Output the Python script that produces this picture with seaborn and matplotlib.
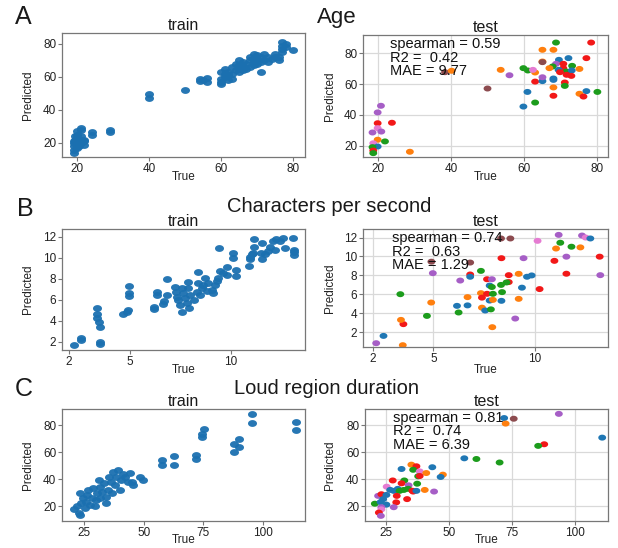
import numpy as np
import pandas as pd
import matplotlib
matplotlib.use("Agg")
import matplotlib.pyplot as plt
import seaborn as sns

# ---------------- data ----------------
# Age - train
age_train_true = [19, 19, 19, 19, 19, 19.5, 20, 20, 20, 20, 20, 20, 21, 21, 21, 21, 21, 22, 22, 22, 20.5, 19.5,
                  24, 24, 29, 29, 40, 40, 50, 54, 54, 55, 56, 56,
                  60, 60, 60, 60, 61, 61, 61, 62, 62, 62, 63, 63, 63, 64, 64, 65, 65, 65, 65, 66, 66, 66,
                  67, 67, 68, 68, 68, 69, 69, 69, 69, 70, 70, 70, 71, 71, 71, 72, 72, 73, 73, 74, 75, 75,
                  76, 76, 77, 77, 77, 77, 78, 78, 80]
age_train_pred = [14, 16, 18, 20, 21, 22, 17, 19, 21, 23, 25, 27, 20, 22, 24, 28, 29, 19, 21, 22, 18, 24,
                  25, 26.5, 26.5, 28, 47.5, 49.5, 52, 57.5, 58.5, 58, 57, 59.5,
                  56, 57, 59, 63, 60, 62, 65, 58, 63, 61, 59, 62, 66, 64, 68, 63, 65, 67, 70, 64, 66, 69,
                  65, 68, 66, 70, 72, 67, 69, 71, 74, 68, 70, 73, 63, 69, 72, 70, 74, 69, 72, 71, 72, 74,
                  70, 72, 75, 77, 79, 81, 78, 80, 76]

# Age - test (group = colour class)
age_test_true = [68.7, 78.3, 65.0, 68.0, 72.1, 77.0, 69.5, 68.7, 65.0, 65.0, 67.8, 70.7, 70.7, 66.9, 73.1,
                 75.1, 59.8, 61.0, 63.0, 62.4, 69.4, 71.5, 69.8, 73.0, 71.6, 72.9, 53.6, 56.0, 38.4, 40.2,
                 63.0, 65.0, 65.0, 68.0, 68.0, 71.1, 71.1, 68.0, 50.0, 60.9, 80.0, 77.0, 75.1, 76.2, 68.0,
                 63.0, 59.8, 20.9, 20.0, 20.0, 23.9, 18.6, 20.0, 21.0, 20.0, 22.0, 18.8, 20.0, 18.6, 18.8,
                 18.8, 28.8]
age_test_pred = [86.9, 86.9, 82.2, 82.2, 76.8, 76.8, 75.7, 73.1, 74.6, 74.2, 71.4, 73.1, 70.3, 70.3, 71.8,
                 69.8, 70.3, 68.8, 67.5, 69.2, 69.2, 68.1, 67.7, 68.8, 66.0, 65.3, 69.2, 65.7, 67.7, 68.6,
                 61.6, 61.9, 64.4, 62.7, 63.6, 61.0, 58.8, 57.8, 57.1, 54.9, 54.9, 55.4, 53.7, 51.9, 52.4,
                 48.0, 45.4, 45.9, 41.6, 34.6, 34.9, 28.6, 31.4, 29.2, 23.9, 22.8, 21.6, 19.5, 19.1, 16.9,
                 15.2, 16.1]
age_test_grp = ["g", "r", "o", "o", "b", "r", "b", "p", "o", "n", "g", "r", "r", "o", "g",
                "o", "g", "g", "o", "k", "b", "g", "r", "b", "r", "r", "o", "p", "n", "o",
                "r", "b", "p", "b", "b", "r", "g", "o", "n", "b", "g", "b", "o", "r", "r",
                "g", "b", "p", "p", "r", "r", "p", "k", "p", "o", "g", "k", "b", "g", "r",
                "g", "o"]

# Characters per second - train
cps_train_true = [2.26, 2.60, 2.60, 3.41, 3.41, 3.41, 3.49, 3.54, 3.54, 3.54, 4.69, 4.86, 4.94, 4.98, 4.98, 4.98,
                  6.21, 6.21, 6.34, 6.34, 6.67, 6.70, 6.84, 6.87, 7.25, 7.28, 7.33, 7.41, 7.50, 7.58, 7.58,
                  7.66, 7.74, 7.82, 7.87, 7.91, 7.94, 7.99, 8.21, 8.32, 8.37, 8.40, 8.49, 8.57, 8.65, 8.73,
                  8.81, 8.90, 9.06, 9.14, 9.23, 9.31, 9.39, 9.47, 9.44, 9.64, 9.80, 9.80, 10.1, 10.1, 10.27,
                  10.27, 10.93, 10.96, 10.96, 11.04, 11.12, 11.17, 11.17, 11.5, 11.53, 11.56, 11.69, 11.86,
                  11.94, 12.11, 12.19, 12.27, 12.44, 12.6, 12.69, 13.1, 13.15, 13.15, 13.15]
cps_train_pred = [1.68, 2.32, 2.16, 5.19, 4.62, 4.24, 3.86, 3.44, 2.0, 1.8, 4.62, 4.81, 5.0, 6.62, 6.4, 7.32,
                  5.34, 5.12, 6.75, 6.5, 5.56, 5.88, 6.5, 7.98, 7.25, 6.75, 6.28, 5.97, 5.5, 4.85, 7.1,
                  6.62, 6.14, 5.66, 7.73, 7.16, 5.19, 6.46, 5.97, 6.75, 7.57, 8.67, 6.46, 7.1, 7.41, 8.1,
                  6.81, 7.57, 6.94, 6.62, 7.41, 7.79, 8.04, 8.74, 10.9, 8.51, 8.36, 9.09, 10.42, 10.0, 8.8,
                  8.26, 9.26, 10.06, 9.9, 10.38, 10.5, 11.04, 11.77, 10.5, 9.9, 11.39, 10.38, 10.7,
                  11.0, 11.64, 10.8, 11.77, 11.64, 11.9, 10.92, 11.9, 10.8, 10.55, 10.3]

# Characters per second - test
cps_test_true = [2.18, 2.54, 3.49, 3.52, 3.40, 3.37, 4.68, 4.89, 4.97, 4.90, 6.32, 6.16, 6.24, 6.68, 6.68,
                 6.81, 6.81, 6.81, 7.34, 7.34, 7.39, 7.39, 7.64, 7.88, 7.64, 7.55, 7.77, 7.88, 7.93, 7.77,
                 7.93, 7.83, 7.90, 8.33, 8.79, 8.35, 8.33, 8.71, 8.71, 8.60, 8.38, 8.35, 9.20, 9.20, 9.03,
                 9.36, 9.44, 9.61, 9.84, 10.13, 10.23, 11.04, 10.96, 11.25, 11.17, 11.55, 11.55, 11.8,
                 12.24, 12.32, 12.5, 12.73, 13.19, 13.22]
cps_test_pred = [0.85, 1.62, 0.64, 2.86, 3.31, 6.02, 3.73, 5.14, 8.24, 9.45, 7.46, 4.79, 4.09, 5.71, 4.84,
                 8.10, 7.86, 9.36, 8.48, 6.13, 5.66, 4.60, 7.60, 7.60, 6.06, 4.30, 6.93, 6.78, 6.06, 5.35,
                 5.42, 4.42, 2.54, 11.9, 11.9, 9.82, 7.0, 8.03, 7.3, 7.26, 6.24, 5.32, 8.17, 5.53, 3.45,
                 6.71, 9.82, 7.86, 8.0, 11.65, 6.56, 10.84, 9.54, 11.45, 12.28, 8.18, 9.98, 11.03,
                 10.96, 12.21, 12.0, 11.9, 9.98, 8.03]
cps_test_grp = ["p", "b", "o", "r", "o", "g", "g", "o", "p", "n", "p", "b", "g", "o", "b",
                "r", "b", "n", "g", "o", "r", "o", "r", "p", "r", "b", "b", "g", "g", "b",
                "o", "g", "o", "n", "n", "r", "g", "r", "r", "g", "g", "b", "o", "o", "p",
                "b", "p", "b", "b", "k", "r", "o", "r", "g", "p", "r", "p", "g",
                "o", "p", "k", "b", "r", "p"]

# Loud region duration - train
loud_train_true = [20.8, 22.0, 22.9, 23.4, 23.2, 23.9, 24.6, 25.3, 25.7, 26.3, 26.7, 27.4, 28.5, 28.8, 29.5,
                   29.9, 30.5, 31.3, 31.6, 31.9, 32.7, 33.3, 34.1, 34.4, 35.1, 35.5, 36.5, 36.8, 37.2, 37.9,
                   38.6, 39.3, 40.0, 40.7, 41.4, 42.1, 43.5, 44.4, 45.3, 45.6, 48.4, 49.5, 57.8, 57.8, 62.5,
                   62.5, 72.0, 72.0, 74.6, 74.6, 75.1, 87.7, 87.7, 89.8, 89.9, 95.5, 95.5, 113.9, 113.9]
loud_train_pred = [18.0, 20.0, 15.1, 13.2, 29.6, 22.3, 25.9, 18.6, 23.5, 28.3, 31.9, 21.1, 25.9, 33.2, 19.9,
                   24.7, 29.6, 39.3, 34.4, 25.9, 30.8, 36.9, 22.3, 27.1, 31.9, 41.6, 38.0, 29.6, 45.3, 35.6,
                   41.6, 46.5, 31.9, 39.3, 44.1, 41.6, 38.0, 44.5, 38.0, 35.6, 41.6, 39.7, 53.9, 50.7, 56.9,
                   50.7, 58.1, 54.7, 73.7, 71.5, 77.5, 65.9, 59.9, 64.0, 70.0, 88.2, 81.7, 82.2, 76.6]

# Loud region duration - test
loud_test_true = [71.9, 75.7, 72.5, 93.6, 110.8, 87.8, 85.4, 56.1, 60.9, 70.1, 31.2, 35.1, 37.1, 43.4, 35.8,
                  38.4, 41.0, 47.6, 46.7, 37.8, 38.4, 27.7, 32.3, 31.2, 37.4, 25.3, 34.0, 26.7, 28.1, 29.7,
                  30.4, 32.1, 33.8, 35.5, 35.8, 37.1, 40.4, 44.1, 21.9, 23.2, 25.2, 29.3, 23.9, 33.4, 20.6,
                  22.9, 25.2, 29.1, 23.2, 28.1, 23.2, 22.2, 23.0]
loud_test_pred = [85.3, 84.8, 81.2, 88.4, 70.8, 65.9, 64.7, 55.5, 55.0, 52.4, 47.6, 50.8, 49.6, 48.9, 47.0,
                  45.8, 44.6, 43.4, 41.7, 42.2, 42.4, 39.1, 39.1, 37.0, 36.7, 34.5, 35.5, 32.1, 31.4, 32.9,
                  31.4, 32.1, 32.9, 31.5, 30.9, 31.4, 32.1, 30.9, 27.7, 28.9, 28.4, 27.7, 25.3, 25.3, 21.9,
                  23.1, 21.2, 22.9, 19.3, 19.3, 17.7, 15.3, 12.9]
loud_test_grp = ["b", "n", "o", "p", "b", "r", "g", "b", "g", "g", "b", "o", "r", "b", "g",
                 "k", "o", "o", "b", "g", "r", "r", "g", "r", "g", "k", "p", "b", "b", "b",
                 "g", "g", "g", "r", "r", "b", "o", "p", "p", "r", "b", "r", "b", "r", "g",
                 "b", "b", "r", "p", "p", "k", "r", "p"]

annot_age = "spearman = 0.59\nR2 =  0.42\nMAE = 9.77"
annot_cps = "spearman = 0.74\nR2 =  0.63\nMAE = 1.29"
annot_loud = "spearman = 0.81\nR2 =  0.74\nMAE = 6.39"

palette = {"b": "#1f77b4", "o": "#ff7f0e", "g": "#1c9c1c", "r": "#f21818",
           "p": "#a65ec6", "n": "#8c4b4f", "k": "#e57bd2"}
train_color = "#1b70b0"

# ---------------- style ----------------
sns.set_style("ticks")
plt.rcParams["font.family"] = ["Liberation Sans", "DejaVu Sans"]
plt.rcParams["text.color"] = "#1a1a1a"

W, H = 618, 548
fig = plt.figure(figsize=(W / 100, H / 100), dpi=100)
fig.patch.set_facecolor("white")

theta = np.linspace(0, 2 * np.pi, 41)
ellipse = list(zip(np.cos(theta), 0.76 * np.sin(theta)))


def rect(x0, y0, x1, y1):
    return [x0 / W, 1 - y1 / H, (x1 - x0) / W, (y1 - y0) / H]


def style_axes(ax, xlim, ylim, xticks, yticks, title, grid, xl_y, yl_x):
    ax.set_xlim(*xlim)
    ax.set_ylim(*ylim)
    ax.set_xticks(xticks)
    ax.set_yticks(yticks)
    ax.set_title(title, fontsize=11.5, pad=2)
    for s in ax.spines.values():
        s.set_visible(True)
        s.set_color("#777777")
        s.set_linewidth(0.9)
    ax.tick_params(length=3, width=0.8, pad=1.2, labelsize=8.5, colors="#777777", labelcolor="#222222")
    ax.set_xlabel("True", fontsize=8.5, color="#222222")
    ax.set_ylabel("Predicted", fontsize=8.5, color="#222222")
    ax.xaxis.set_label_coords(0.5, xl_y)
    ax.yaxis.set_label_coords(yl_x, 0.5)
    if grid:
        ax.grid(True, color="#d9d9d9", linewidth=0.9)
        ax.set_axisbelow(True)
    else:
        ax.grid(False)


def train_panel(r, xs, ys, xlim, ylim, xticks, yticks, xl_y, yl_x):
    ax = fig.add_axes(rect(*r))
    df = pd.DataFrame({"True": xs, "Predicted": ys})
    sns.scatterplot(data=df, x="True", y="Predicted", ax=ax, color=train_color,
                    s=42, linewidth=0, marker=ellipse, alpha=0.95)
    style_axes(ax, xlim, ylim, xticks, yticks, "train", False, xl_y, yl_x)
    return ax


def test_panel(r, xs, ys, grp, xlim, ylim, xticks, yticks, annot, ax_x, ax_y, xl_y, yl_x):
    ax = fig.add_axes(rect(*r))
    df = pd.DataFrame({"True": xs, "Predicted": ys, "group": grp})
    sns.scatterplot(data=df, x="True", y="Predicted", hue="group", palette=palette, ax=ax,
                    s=32, linewidth=0, marker=ellipse, legend=False)
    style_axes(ax, xlim, ylim, xticks, yticks, "test", True, xl_y, yl_x)
    ax.text(ax_x, ax_y, annot, transform=ax.transAxes, ha="left", va="top",
            fontsize=10.5, linespacing=0.98, color="#111111")
    return ax


# Row A: Age
train_panel((62, 33, 305, 157.3), age_train_true, age_train_pred,
            (15.8, 83.3), (11.3, 86.6), [20, 40, 60, 80], [20, 40, 60, 80], -0.110, -0.1165)
test_panel((363, 35, 608, 156.7), age_test_true, age_test_pred, age_test_grp,
           (16.0, 82.9), (12.9, 91.8), [20, 40, 60, 80], [20, 40, 60, 80],
           annot_age, 0.110, 0.985, -0.1175, -0.111)

# Row B: Characters per second
train_panel((62, 229, 305, 350), cps_train_true, cps_train_pred,
            (1.66, 13.68), (1.2, 12.76), [2, 5, 10], [2, 4, 6, 8, 10, 12], -0.116, -0.1165)
test_panel((363, 229, 608, 346.7), cps_test_true, cps_test_pred, cps_test_grp,
           (1.53, 13.6), (0.48, 12.9), [2, 5, 10], [2, 4, 6, 8, 10, 12],
           annot_cps, 0.117, 0.985, -0.147, -0.111)

# Row C: Loud region duration (axes bottom at 521 px)
c_bot = 521
c_top = 409
c_h = c_bot - c_top
c_xl = -(534.0 - c_bot) / c_h
train_panel((62, c_top, 305, c_bot), loud_train_true, loud_train_pred,
            (15.8, 117.5), (9.1, 92.0), [25, 50, 75, 100], [20, 40, 60, 80], c_xl, -0.1165)
test_panel((365, c_top, 608, c_bot), loud_test_true, loud_test_pred, loud_test_grp,
           (16.7, 113.1), (9.1, 92.0), [25, 50, 75, 100], [20, 40, 60, 80],
           annot_loud, 0.114, 0.985, c_xl, -0.121)

# Section labels and titles
fig.text(15 / W, 1 - 17 / H, "A", fontsize=18, ha="left", va="center")
fig.text(317 / W, 1 - 17 / H, "Age", fontsize=16, ha="left", va="center")
fig.text(17 / W, 1 - 209 / H, "B", fontsize=18, ha="left", va="center")
fig.text(329 / W, 1 - 207 / H, "Characters per second", fontsize=14.5, ha="center", va="center")
fig.text(15 / W, 1 - 389 / H, "C", fontsize=18, ha="left", va="center")
fig.text(326.5 / W, 1 - 389 / H, "Loud region duration", fontsize=14.5, ha="center", va="center")

fig.savefig("out.png", dpi=100, facecolor="white")
